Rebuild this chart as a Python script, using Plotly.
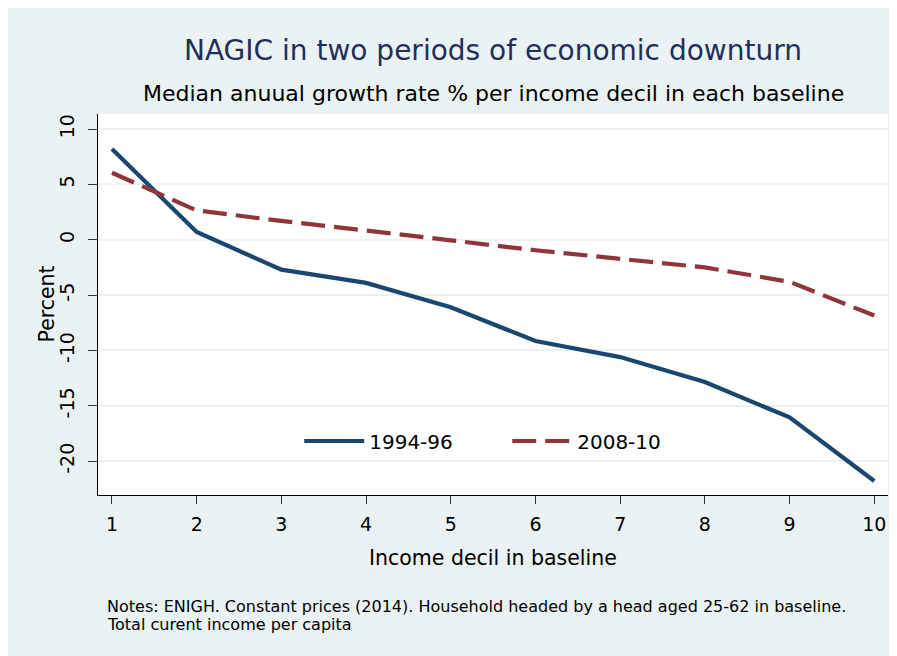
import plotly.graph_objects as go

# Income deciles and median annual growth rates (%)
deciles = [1, 2, 3, 4, 5, 6, 7, 8, 9, 10]
growth_1994_96 = [8.2, 0.7, -2.7, -3.9, -6.1, -9.15, -10.6, -12.85, -16.05, -21.8]
growth_2008_10 = [6.05, 2.65, 1.7, 0.85, -0.05, -0.95, -1.7, -2.5, -3.8, -6.85]
series_names = ["1994-96", "2008-10"]
y_ticks = [-20, -15, -10, -5, 0, 5, 10]
y_tick_labels = ["-20", "-15", "-10", "-5", "0", "5", "10"]

BG = "#eaf2f3"
NAVY = "#1a476f"
MAROON = "#90353b"
FONT = "DejaVu Sans, Liberation Sans, Arial, sans-serif"

# plot area height in px, used to place text relative to it
PH = 381

fig = go.Figure()

fig.add_trace(
    go.Scatter(
        x=deciles,
        y=growth_1994_96,
        mode="lines",
        name=series_names[0],
        line=dict(color=NAVY, width=4.2),
    )
)
fig.add_trace(
    go.Scatter(
        x=deciles,
        y=growth_2008_10,
        mode="lines",
        name=series_names[1],
        line=dict(color=MAROON, width=4.2, dash="24px,9px"),
    )
)

fig.update_layout(
    width=897,
    height=656,
    paper_bgcolor=BG,
    plot_bgcolor="white",
    margin=dict(l=90, r=17, t=106, b=169),
    font=dict(family=FONT, color="black"),
    title=dict(
        text="NAGIC in two periods of economic downturn",
        x=0.5,
        xref="paper",
        xanchor="center",
        y=1 - 42 / 656,
        yanchor="middle",
        font=dict(size=28, color="#1f2f5c", family=FONT),
    ),
    showlegend=True,
    legend=dict(
        orientation="h",
        x=0.518,
        xanchor="center",
        y=54 / PH,
        yanchor="middle",
        bgcolor="rgba(0,0,0,0)",
        font=dict(size=20, color="black"),
        itemwidth=60,
        entrywidth=133,
    ),
    annotations=[
        dict(
            text="Median anuual growth rate % per income decil in each baseline",
            xref="paper", yref="paper", x=0.5, y=1 + 21 / PH,
            xanchor="center", yanchor="middle", showarrow=False,
            font=dict(size=22, color="black"),
        ),
        dict(
            text="Notes: ENIGH. Constant prices (2014). Household headed by a head aged 25-62 in baseline.",
            xref="paper", yref="paper", x=7 / 790, y=-(111 / PH),
            xanchor="left", yanchor="middle", showarrow=False,
            font=dict(size=16, color="black"),
        ),
        dict(
            text="Total curent income per capita",
            xref="paper", yref="paper", x=7 / 790, y=-(129 / PH),
            xanchor="left", yanchor="middle", showarrow=False,
            font=dict(size=16, color="black"),
        ),
        dict(
            text="Income decil in baseline",
            xref="paper", yref="paper", x=0.5, y=-(63 / PH),
            xanchor="center", yanchor="middle", showarrow=False,
            font=dict(size=20.5, color="black"),
        ),
        dict(
            text="Percent",
            xref="paper", yref="paper", x=-(52 / 790), y=0.5,
            xanchor="center", yanchor="middle", showarrow=False,
            textangle=-90,
            font=dict(size=20.5, color="black"),
        ),
    ],
    xaxis=dict(
        range=[0.835, 10.162],
        tickmode="array",
        tickvals=deciles,
        ticks="outside",
        ticklen=8,
        tickwidth=1,
        tickcolor="#333333",
        ticklabelstandoff=4,
        showline=True,
        linecolor="black",
        linewidth=1,
        showgrid=False,
        zeroline=False,
        tickfont=dict(size=19),
    ),
    yaxis=dict(
        range=[-23.06, 11.36],
        tickmode="array",
        tickvals=y_ticks,
        ticktext=y_tick_labels,
        tickangle=-90,
        ticks="outside",
        ticklen=9,
        tickwidth=1,
        tickcolor="#333333",
        ticklabelstandoff=6,
        showline=True,
        linecolor="black",
        linewidth=1,
        showgrid=True,
        gridcolor=BG,
        gridwidth=1.6,
        zeroline=False,
        tickfont=dict(size=19),
    ),
)

fig.write_html("out.html")
